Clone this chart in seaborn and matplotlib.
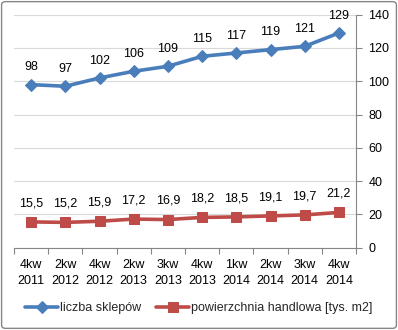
import matplotlib
matplotlib.use("Agg")
import matplotlib.pyplot as plt
import seaborn as sns
import pandas as pd
from matplotlib.patches import FancyBboxPatch
from matplotlib.ticker import FixedLocator

categories = ["4kw\n2011", "2kw\n2012", "4kw\n2012", "2kw\n2013", "3kw\n2013",
              "4kw\n2013", "1kw\n2014", "2kw\n2014", "3kw\n2014", "4kw\n2014"]
sklepy = [98, 97, 102, 106, 109, 115, 117, 119, 121, 129]
powierzchnia = [15.5, 15.2, 15.9, 17.2, 16.9, 18.2, 18.5, 19.1, 19.7, 21.2]
series_names = ["liczba sklepów", "powierzchnia handlowa [tys. m2]"]
y_ticks = [0, 20, 40, 60, 80, 100, 120, 140]

sns.set_theme(style="white")
plt.rcParams['font.family'] = ['Liberation Sans', 'DejaVu Sans']

blue = "#4A7EBB"
red = "#BE4B48"
grid_c = "#D9D9D9"
axis_c = "#868686"

n = len(categories)
pos = list(range(n))
df = pd.DataFrame({
    "pos": pos * 2,
    "val": sklepy + powierzchnia,
    "serie": [series_names[0]] * n + [series_names[1]] * n,
})

fig = plt.figure(figsize=(3.98, 3.30), dpi=100)
ax = fig.add_axes([14/398, 1 - 247.7/330, 342/398, (247.7 - 14.7)/330])

sns.lineplot(data=df[df.serie == series_names[0]], x="pos", y="val", ax=ax,
             color=blue, lw=2.6, marker="D", markersize=6.5, markeredgecolor=blue,
             label=series_names[0], zorder=3)
sns.lineplot(data=df[df.serie == series_names[1]], x="pos", y="val", ax=ax,
             color=red, lw=2.6, marker="s", markersize=7, markeredgecolor=red,
             label=series_names[1], zorder=3)

for x, v in zip(pos, sklepy):
    ax.annotate(f"{v}", (x, v), xytext=(0, 12.5), textcoords="offset points",
                ha="center", va="center", fontsize=9, color="black")
for x, v in zip(pos, powierzchnia):
    ax.annotate(f"{v:.1f}".replace(".", ","), (x, v), xytext=(0, 13.5),
                textcoords="offset points", ha="center", va="center",
                fontsize=9, color="black")

ax.set_xlim(-0.5, n - 0.5)
ax.set_ylim(0, 140)
ax.set_yticks(y_ticks)
ax.yaxis.tick_right()
ax.yaxis.set_label_position("right")
ax.tick_params(axis="y", which="major", direction="out", length=4, width=0.8,
               color=axis_c, pad=5, labelsize=9, labelcolor="black", right=True, left=False)
ax.set_xticks(pos)
ax.set_xticklabels(categories, linespacing=1.45)
ax.xaxis.set_minor_locator(FixedLocator([p - 0.5 for p in range(n + 1)]))
ax.tick_params(axis="x", which="major", length=0, pad=8, labelsize=9, labelcolor="black")
ax.tick_params(axis="x", which="minor", direction="out", length=4, width=0.8,
               color=axis_c, bottom=True)
ax.set_xlabel("")
ax.set_ylabel("")
ax.grid(axis="y", color=grid_c, lw=0.8)
ax.set_axisbelow(True)
for s in ["top", "left"]:
    ax.spines[s].set_visible(False)
for s in ["right", "bottom"]:
    ax.spines[s].set_color(axis_c)
    ax.spines[s].set_linewidth(0.8)

leg = ax.legend(loc="center", bbox_to_anchor=(0.5, 1 - 308/330),
                bbox_transform=fig.transFigure, ncol=2, frameon=False,
                fontsize=9, handlelength=2.6, columnspacing=1.2, handletextpad=0.2)

border = FancyBboxPatch((0.004, 0.005), 0.992, 0.99, boxstyle="round,pad=0,rounding_size=0.01",
                        transform=fig.transFigure, fill=False, edgecolor="#868686", lw=1.0)
fig.patches.append(border)

fig.savefig("out.png", dpi=100, facecolor="white")
